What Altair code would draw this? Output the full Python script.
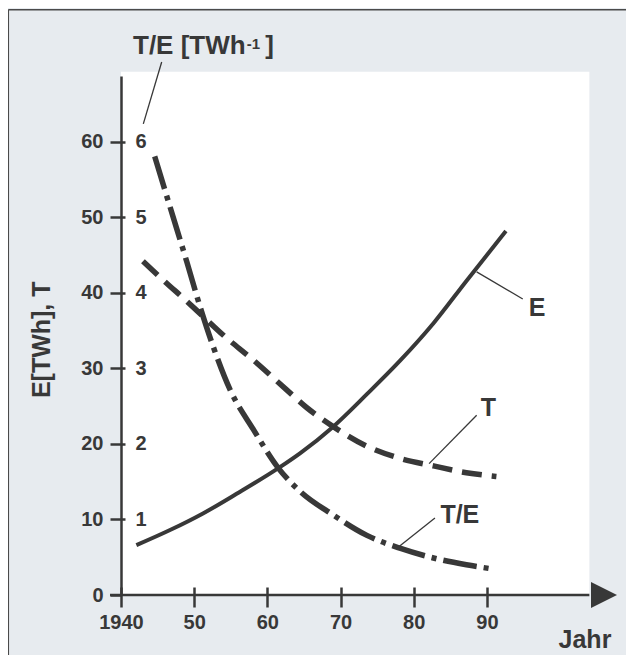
import altair as alt
import pandas as pd

# ---------------- data ----------------
E_years = [1942.1, 1946.7, 1951.2, 1955.8, 1961.5, 1964.5, 1969.0, 1973.6, 1978.1, 1982.7, 1987.2, 1992.6]
E_vals = [6.6, 8.6, 10.8, 13.4, 16.8, 18.8, 22.3, 26.6, 31.0, 36.0, 41.6, 48.2]

T_years = [1943.0, 1946.0, 1949.0, 1951.0, 1954.0, 1958.1, 1962.6, 1965.4, 1969.0, 1973.6, 1978.1, 1982.7, 1987.2, 1991.3]
T_vals = [44.2, 41.5, 38.9, 37.1, 34.4, 31.1, 27.2, 24.8, 22.3, 19.7, 18.1, 17.1, 16.2, 15.7]

TE_years = [1944.6, 1946.7, 1949.0, 1950.8, 1952.6, 1954.9, 1958.1, 1961.5, 1964.5, 1969.0, 1973.6, 1978.1, 1982.7, 1987.2, 1991.1]
TE_vals = [5.81, 5.14, 4.41, 3.82, 3.29, 2.72, 2.19, 1.68, 1.37, 1.06, 0.79, 0.62, 0.49, 0.40, 0.34]

x_ticks = [1940, 1950, 1960, 1970, 1980, 1990]
x_tick_labels = ["1940", "50", "60", "70", "80", "90"]
y_ticks = [0, 10, 20, 30, 40, 50, 60]
y2_ticks = [1, 2, 3, 4, 5, 6]

# annotation texts (anchored in data coordinates)
lab_text = ["E", "T", "T/E", "T/E [TWh", "-1", "]", "Jahr"]
lab_year = [1996.85, 1990.2, 1986.3, 1941.64, 1957.2, 1959.7, 2003.4]
lab_val = [37.0, 23.7, 9.5, 71.66, 72.3, 71.66, -7.0]
lab_size = [25, 25, 25, 26, 15, 26, 25]
lab_align = ["center", "center", "center", "left", "left", "left", "center"]

# leader lines from curve to label
lead_x = [1988.6, 1982.1, 1977.7, 1945.56]
lead_x2 = [1994.9, 1988.6, 1982.9, 1943.05]
lead_y = [42.8, 17.4, 6.2, 70.6]
lead_y2 = [39.2, 23.8, 10.2, 62.4]

y_title = "E[TWh], T"

# ---------------- styling ----------------
FONT = "Liberation Sans"
INK = "#383838"
BG = "#e7ebef"
W, H = 483, 519
TICK_FS = 20

X_DOM = [1940, 2006]
Y_DOM = [0, 68.74]
Y2_DOM = [0, 6.874]

xs = alt.Scale(domain=X_DOM, nice=False, zero=False)
ys = alt.Scale(domain=Y_DOM, nice=False, zero=False)
ys2 = alt.Scale(domain=Y2_DOM, nice=False, zero=False)

expr = "''"
for v, l in zip(reversed(x_ticks), reversed(x_tick_labels)):
    expr = f"datum.value == {v} ? '{l}' : ({expr})"

xaxis = alt.Axis(values=x_ticks, labelExpr=expr, tickSize=20, offset=-8, domain=False,
                 grid=False, labelFont=FONT, labelFontSize=TICK_FS, labelFontWeight="bold",
                 labelColor=INK, tickColor=INK, tickWidth=2.5, labelPadding=5, title=None,
                 labelFlush=False, labelOverlap=False, zindex=2)
yaxis = alt.Axis(values=y_ticks, orient="left", tickSize=11, domain=True, domainWidth=2.5,
                 domainColor=INK, tickColor=INK, tickWidth=2.5, labelPadding=7,
                 labelFont=FONT, labelFontSize=TICK_FS, labelFontWeight="bold", labelColor=INK,
                 format="d", title=None, grid=False, labelFlush=False, labelOverlap=False,
                 zindex=2)
yaxis2 = alt.Axis(values=y2_ticks, orient="right", offset=-W, tickSize=4, domain=False,
                  tickColor=INK, tickWidth=2.5, labelPadding=10, labelAlign="left",
                  labelFont=FONT, labelFontSize=TICK_FS, labelFontWeight="bold", labelColor=INK,
                  format="d", title=None, grid=False, labelFlush=False, labelOverlap=False,
                  zindex=2)


def X(f):
    return alt.X(f, type="quantitative", scale=xs, axis=xaxis)


def Y(f):
    return alt.Y(f, type="quantitative", scale=ys, axis=yaxis)


e_df = pd.DataFrame({"yr": E_years, "v": E_vals})
t_df = pd.DataFrame({"yr": T_years, "v": T_vals})
te_df = pd.DataFrame({"yr": TE_years, "te": TE_vals})
lab_df = pd.DataFrame({"yr": lab_year, "v": lab_val, "txt": lab_text, "fs": lab_size, "al": lab_align})
lead_df = pd.DataFrame({"yr": lead_x, "yr2": lead_x2, "v": lead_y, "v2": lead_y2})

# scanned page frame (top and left edges) and white panel behind the plot
frame = alt.Chart(pd.DataFrame({"yr": [1924.6, 1924.6], "yr2": [2012.0, 1924.6],
                                "v": [77.5, 77.5], "v2": [77.5, -9.5]})).mark_rule(
    color="#4a4a4a", strokeWidth=1.5).encode(x=X("yr"), x2="yr2", y=Y("v"), y2="v2")

white = alt.Chart(pd.DataFrame({"yr": [1940], "yr2": [2004], "v": [0], "v2": [69.3]})).mark_rect(
    color="white").encode(x=X("yr"), x2="yr2", y=Y("v"), y2="v2")

baseline = alt.Chart(pd.DataFrame({"yr": [1938.5], "yr2": [2004], "v": [0]})).mark_rule(
    color=INK, strokeWidth=2.6).encode(x=X("yr"), x2="yr2", y=Y("v"))

arrow = alt.Chart(pd.DataFrame({"yr": [X_DOM[1]], "v": [0]})).mark_point(
    shape="M-1,-1L1,0L-1,1Z", size=676, filled=True, color=INK, opacity=1).encode(
    x=X("yr"), y=Y("v"))

e_line = alt.Chart(e_df).mark_line(color=INK, strokeWidth=4, interpolate="monotone").encode(
    x=X("yr"), y=Y("v"))

t_line = alt.Chart(t_df).mark_line(color=INK, strokeWidth=5.5, strokeDash=[20, 10],
                                   interpolate="monotone").encode(x=X("yr"), y=Y("v"))

leaders = alt.Chart(lead_df).mark_rule(color=INK, strokeWidth=1.3).encode(
    x=X("yr"), x2="yr2", y=Y("v"), y2="v2")

labels_c = alt.Chart(lab_df[lab_df["al"] == "center"]).mark_text(
    font=FONT, fontWeight="bold", color=INK, baseline="alphabetic", align="center").encode(
    x=X("yr"), y=Y("v"), text="txt:N", size=alt.Size("fs:Q", scale=None))

labels_l = alt.Chart(lab_df[lab_df["al"] == "left"]).mark_text(
    font=FONT, fontWeight="bold", color=INK, baseline="alphabetic", align="left").encode(
    x=X("yr"), y=Y("v"), text="txt:N", size=alt.Size("fs:Q", scale=None))

ytitle = alt.Chart(pd.DataFrame({"yr": [1929.2], "v": [33.8], "txt": [y_title]})).mark_text(
    font=FONT, fontWeight="bold", color=INK, fontSize=25, angle=270, align="center",
    baseline="middle").encode(x=X("yr"), y=Y("v"), text="txt:N")

primary = alt.layer(frame, white, baseline, arrow, e_line, t_line, leaders, labels_c, labels_l, ytitle)

te_line = alt.Chart(te_df).mark_line(color=INK, strokeWidth=5.5, strokeDash=[34, 7, 5, 7],
                                     interpolate="monotone").encode(
    x=X("yr"), y=alt.Y("te", type="quantitative", scale=ys2, axis=yaxis2))

chart = alt.layer(primary, te_line).resolve_scale(y="independent").properties(
    width=W, height=H,
    padding={"left": 113, "top": 68, "right": 22, "bottom": 60},
    autosize=alt.AutoSizeParams(type="none"),
    background=BG,
).configure_view(stroke=None)

chart.save("out.html", embed_options={"renderer": "svg", "actions": False})
